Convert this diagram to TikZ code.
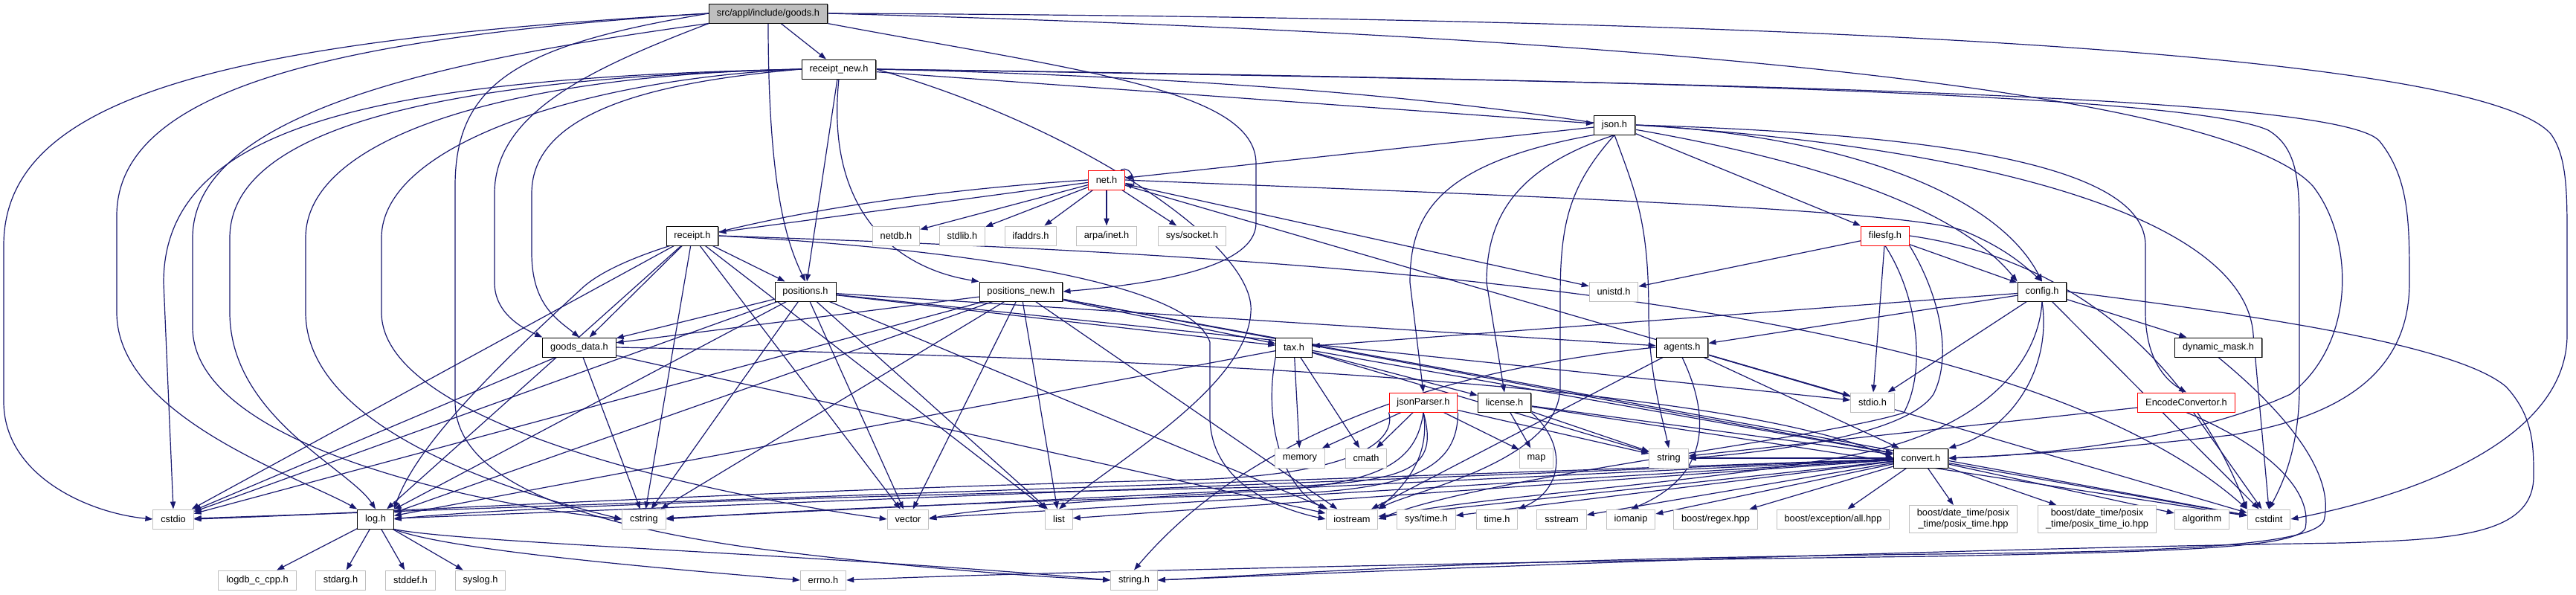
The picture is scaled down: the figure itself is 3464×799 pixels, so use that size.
\documentclass[tikz,border=0pt]{standalone}
\usepackage{fontspec}
\setmainfont{Liberation Sans}
\usetikzlibrary{arrows.meta,shadows}
\pgfdeclarelayer{bgl}
\pgfdeclarelayer{edgel}
\pgfsetlayers{bgl,edgel,main}
\definecolor{edgec}{HTML}{191970}
\definecolor{extg}{HTML}{BFBFBF}
\definecolor{rootg}{HTML}{BFBFBF}
\newcommand\nodefnt{\fontsize{6.4pt}{7.6pt}\selectfont}
\tikzset{
 nbase/.style={draw, fill=white, font=\nodefnt, minimum height=13pt, inner xsep=5.2pt, inner ysep=0pt, line width=0.5pt, text=black},
 shad/.style={drop shadow={shadow xshift=0.6pt, shadow yshift=-0.6pt, fill=black!55, opacity=1}},
 doc/.style={nbase, draw=black, shad},
 ext/.style={nbase, draw=extg},
 redbox/.style={nbase, draw=red},
 rootbox/.style={nbase, fill=rootg, draw=black, shad},
 lnk/.style={draw=edgec, line width=0.6pt, -{Triangle[length=5pt,width=3.6pt]}},
}
\begin{document}
\begin{tikzpicture}[x=0.5pt,y=-0.5pt]
\begin{pgfonlayer}{bgl}
\fill[white] (0,0) rectangle (3464,799);
\end{pgfonlayer}
\useasboundingbox (0,0) rectangle (3464,799);
% nodes
\node[rootbox] (G) at (1033,18) {src/appl/include/goods.h};
\node[doc] (R) at (1128,93) {receipt\_new.h};
\node[doc] (J) at (2171,168) {json.h};
\node[redbox] (N) at (1488,242) {net.h};
\node[doc] (RC) at (931,317) {receipt.h};
\node[ext] (NDB) at (1205,317) {netdb.h};
\node[ext] (SLB) at (1294,317) {stdlib.h};
\node[ext] (IFA) at (1386,317) {ifaddrs.h};
\node[ext] (ARP) at (1488,317) {arpa/inet.h};
\node[ext] (SOC) at (1603,317) {sys/socket.h};
\node[redbox] (FS) at (2535,317) {filesfg.h};
\node[doc] (P) at (1083,392) {positions.h};
\node[doc] (PN) at (1373,392) {positions\_new.h};
\node[ext] (UNI) at (2170,392) {unistd.h};
\node[doc] (CF) at (2746,392) {config.h};
\node[doc] (GD) at (779,467) {goods\_data.h};
\node[doc] (TX) at (1740,467) {tax.h};
\node[doc] (AG) at (2262,467) {agents.h};
\node[doc] (DM) at (2983,467) {dynamic\_mask.h};
\node[redbox] (JP) at (1914,541) {jsonParser.h};
\node[doc] (LI) at (2023,541) {license.h};
\node[ext] (SIO) at (2518,541) {stdio.h};
\node[redbox] (EC) at (2940,541) {EncodeConvertor.h};
\node[ext] (MEM) at (1748,616) {memory};
\node[ext] (CM) at (1837,616) {cmath};
\node[ext] (MAP) at (2066,616) {map};
\node[ext] (STR) at (2244,616) {string};
\node[doc] (CV) at (2583,616) {convert.h};
\node[ext] (CSTDIO) at (233,698) {cstdio};
\node[doc] (LOG) at (505,698) {log.h};
\node[ext] (CSTR) at (866,698) {cstring};
\node[ext] (VEC) at (1221,698) {vector};
\node[ext] (LST) at (1424,698) {list};
\node[ext] (IOS) at (1818,698) {iostream};
\node[ext] (STIME) at (1918,698) {sys/time.h};
\node[ext] (TIME) at (2013,698) {time.h};
\node[ext] (SST) at (2100,698) {sstream};
\node[ext] (IOM) at (2193,698) {iomanip};
\node[ext] (BRX) at (2307,698) {boost/regex.hpp};
\node[ext] (BEX) at (2465,698) {boost/exception/all.hpp};
\node[ext, align=center, inner ysep=2.4pt] (BPT) at (2640,698) {boost/date\_time/posix\\\_time/posix\_time.hpp};
\node[ext, align=center, inner ysep=2.4pt] (BPTIO) at (2820,698) {boost/date\_time/posix\\\_time/posix\_time\_io.hpp};
\node[ext] (ALG) at (2961,698) {algorithm};
\node[ext] (CINT) at (3051,698) {cstdint};
\node[ext] (LDB) at (346,780) {logdb\_c\_cpp.h};
\node[ext] (SARG) at (458,780) {stdarg.h};
\node[ext] (SDEF) at (552,780) {stddef.h};
\node[ext] (SLOG) at (646,780) {syslog.h};
\node[ext] (ERR) at (1107,780) {errno.h};
\node[ext] (STRH) at (1525,780) {string.h};
\begin{pgfonlayer}{edgel}
% goods.h
\draw[lnk] (G) -- (R);
\draw[lnk] (1033,31) .. controls (1033,260) and (1060,330) .. (P.north);
\draw[lnk] (G.south east) .. controls (1450,95) and (1689,120) .. (1689,220) -- (1689,300) .. controls (1689,360) and (1550,382) .. (PN.east);
\draw[lnk] (G.west) .. controls (700,60) and (612,110) .. (612,250) -- (612,540) .. controls (612,640) and (760,700) .. (1000,735) .. controls (1200,762) and (1400,776) .. (STRH.west);
\draw[lnk] (G.south west) .. controls (800,90) and (665,150) .. (665,260) -- (665,380) .. controls (665,420) and (700,440) .. (GD.north west);
\draw[lnk] (G.west) .. controls (300,55) and (5,130) .. (5,330) -- (5,540) .. controls (5,640) and (120,690) .. (CSTDIO.west);
\draw[lnk] (G.west) .. controls (450,50) and (157,120) .. (157,290) -- (157,420) .. controls (157,560) and (400,640) .. (LOG.north west);
\draw[lnk] (G.south west) .. controls (600,80) and (259,150) .. (259,320) -- (259,440) .. controls (259,600) and (650,680) .. (CSTR.west);
\draw[lnk] (G.east) .. controls (2300,50) and (3000,130) .. (3110,250) .. controls (3165,320) and (3170,460) .. (3080,530) .. controls (2950,590) and (2750,612) .. (CV.east);
\draw[lnk] (G.east) .. controls (2700,25) and (3350,90) .. (3430,180) .. controls (3452,210) and (3452,260) .. (3452,320) -- (3452,450) .. controls (3452,590) and (3250,665) .. (CINT.east);
% receipt_new.h
\draw[lnk] (R) -- (J);
\draw[lnk] (R) -- (P);
\draw[lnk] (R.south) .. controls (1110,280) and (1200,360) .. (PN.north west);
\draw[lnk] (R.west) .. controls (880,110) and (715,150) .. (715,260) -- (715,340) .. controls (715,410) and (750,430) .. (GD.north);
\draw[lnk] (R.west) .. controls (500,105) and (220,170) .. (220,380) -- (CSTDIO.north);
\draw[lnk] (R.west) .. controls (600,105) and (309,170) .. (309,320) -- (309,420) .. controls (309,560) and (470,630) .. (LOG.north);
\draw[lnk] (R.west) .. controls (700,100) and (411,180) .. (411,320) -- (411,420) .. controls (411,580) and (700,665) .. (CSTR.west);
\draw[lnk] (R.west) .. controls (800,105) and (513,190) .. (513,320) -- (513,420) .. controls (513,580) and (1000,672) .. (VEC.west);
\draw[lnk] (R.east) .. controls (1450,170) and (1690,330) .. (1682,420) .. controls (1676,520) and (1500,620) .. (LST.north);
\draw[lnk] (R.east) .. controls (1900,110) and (2550,180) .. (CF.north west);
\draw[lnk] (R.east) .. controls (2300,108) and (2950,130) .. (3050,175) .. controls (3092,200) and (3092,250) .. (3092,320) -- (3092,520) .. controls (3092,600) and (3070,650) .. (CINT.north);
\draw[lnk] (R.east) .. controls (2400,112) and (3150,130) .. (3200,190) .. controls (3240,240) and (3240,300) .. (3240,380) .. controls (3240,500) and (3150,560) .. (3000,585) .. controls (2800,608) and (2700,612) .. (CV.east);
% json.h
\draw[lnk] (J) -- (N);
\draw[lnk] (J) -- (FS);
\draw[lnk] (J.east) .. controls (2450,180) and (2680,250) .. (CF.north);
\draw[lnk] (J.south west) .. controls (1930,220) and (1896,290) .. (1896,380) -- (JP.north);
\draw[lnk] (J.south) .. controls (2040,225) and (1999,290) .. (1999,380) -- (LI.north);
\draw[lnk] (J.south) .. controls (2110,250) and (2098,300) .. (2098,400) -- (2098,520) .. controls (2098,620) and (1900,660) .. (IOS.north east);
\draw[lnk] (J.south) .. controls (2200,260) and (2217,300) .. (2217,420) .. controls (2217,500) and (2235,560) .. (STR.north);
\draw[lnk] (J.east) .. controls (2600,180) and (2885,220) .. (2885,330) -- (2885,420) .. controls (2885,480) and (2910,510) .. (EC.north);
\draw[lnk] (J.east) .. controls (2700,200) and (3020,300) .. (3030,450) -- (CINT.north);
% net.h
\draw[lnk] (N) -- (NDB);
\draw[lnk] (N) -- (SLB);
\draw[lnk] (N) -- (IFA);
\draw[lnk] (N) -- (ARP);
\draw[lnk] (N) -- (SOC);
\draw[lnk] ([xshift=-3pt]N.north east) .. controls +(16,-8) and +(16,8) .. ([yshift=-2pt]N.east);
\draw[lnk] (N) -- (RC);
\draw[lnk] (N.west) .. controls (1150,262) and (850,320) .. (780,390) .. controls (660,500) and (560,600) .. (LOG.north east);
\draw[lnk] (N) -- (UNI);
\draw[lnk] (N.east) .. controls (2000,262) and (2550,280) .. (2640,310) .. controls (2700,335) and (2725,360) .. (CF.north);
\draw[lnk] (N) -- (SIO);
% receipt.h
\draw[lnk] (RC) -- (P);
\draw[lnk] (RC) -- (GD);
\draw[lnk] (RC) -- (LOG);
\draw[lnk] (RC) -- (CSTDIO);
\draw[lnk] (RC) -- (CSTR);
\draw[lnk] (RC) -- (VEC);
\draw[lnk] (RC) -- (LST);
\draw[lnk] (RC.east) .. controls (1300,335) and (1600,380) .. (1627,460) -- (1627,560) .. controls (1627,640) and (1700,680) .. (IOS.west);
\draw[lnk] (RC.east) .. controls (1800,345) and (2700,400) .. (CINT.north west);
% positions.h
\draw[lnk] (P) -- (GD);
\draw[lnk] (P) -- (TX);
\draw[lnk] (P) -- (AG);
\draw[lnk] (P) -- (SIO);
\draw[lnk] (P) -- (LOG);
\draw[lnk] (P) -- (CSTDIO);
\draw[lnk] (P) -- (CSTR);
\draw[lnk] (P) -- (VEC);
\draw[lnk] (P) -- (LST);
\draw[lnk] (P) -- (IOS);
% positions_new.h
\draw[lnk] (PN) -- (GD);
\draw[lnk] (PN) -- (TX);
\draw[lnk] (PN) -- (LOG);
\draw[lnk] (PN) -- (CSTDIO);
\draw[lnk] (PN) -- (CSTR);
\draw[lnk] (PN) -- (VEC);
\draw[lnk] (PN) -- (LST);
\draw[lnk] (PN) -- (IOS);
\draw[lnk] (PN) -- (CV);
\draw[lnk] (PN) -- (CINT);
% filesfg.h
\draw[lnk] (FS) -- (CF);
\draw[lnk] (FS) -- (UNI);
\draw[lnk] (FS) -- (SIO);
\draw[lnk] (FS.south) .. controls (2580,400) and (2590,500) .. (2560,555) .. controls (2450,590) and (2000,640) .. (IOS.east);
\draw[lnk] (FS.south east) .. controls (2610,400) and (2625,480) .. (2600,530) .. controls (2560,590) and (2350,610) .. (STR.east);
\draw[lnk] (FS.east) .. controls (2800,350) and (2950,500) .. (CINT.north west);
% config.h
\draw[lnk] (CF) -- (TX);
\draw[lnk] (CF) -- (AG);
\draw[lnk] (CF) -- (DM);
\draw[lnk] (CF) -- (SIO);
\draw[lnk] (CF.south) .. controls (2760,500) and (2700,580) .. (CV.north east);
\draw[lnk] (CF.east) .. controls (3000,420) and (3300,460) .. (3370,520) .. controls (3407,560) and (3407,600) .. (3407,640) .. controls (3407,720) and (3300,725) .. (3150,730) .. controls (2500,740) and (1800,770) .. (STRH.east);
\draw[lnk] (CF) -- (CINT);
\draw[lnk] (CF.south) .. controls (2740,500) and (2650,580) .. (2500,610) .. controls (2300,650) and (1950,670) .. (IOS.east);
% goods_data.h
\draw[lnk] (GD) -- (CSTDIO);
\draw[lnk] (GD) -- (CSTR);
\draw[lnk] (GD) -- (IOS);
\draw[lnk] (GD.east) .. controls (1500,480) and (2300,510) .. (CV.west);
% tax.h
\draw[lnk] (TX) -- (LI);
\draw[lnk] (TX) -- (MEM);
\draw[lnk] (TX) -- (CM);
\draw[lnk] (TX.south west) .. controls (1700,560) and (1720,650) .. (IOS.north west);
\draw[lnk] (TX) -- (LOG);
\draw[lnk] (TX) -- (STR);
\draw[lnk] (TX) -- (CV);
% agents.h
\draw[lnk] (AG) -- (SIO);
\draw[lnk] (AG.west) .. controls (2000,490) and (1700,560) .. (STRH.north);
\draw[lnk] (AG) -- (CV);
\draw[lnk] (AG.south) .. controls (2300,560) and (2300,640) .. (IOM.north);
\draw[lnk] (AG) -- (CINT);
\draw[lnk] (AG) -- (IOS);
% dynamic_mask.h
\draw[lnk] (DM.south) .. controls (3080,560) and (3140,640) .. (3125,700) .. controls (3110,735) and (2900,742) .. (2600,745) .. controls (2000,752) and (1800,768) .. (STRH.east);
% jsonParser.h
\draw[lnk] (JP) -- (MEM);
\draw[lnk] (JP) -- (CM);
\draw[lnk] (JP) -- (MAP);
\draw[lnk] (JP) -- (STR);
\draw[lnk] (JP.south) .. controls (1925,620) and (1880,660) .. (IOS.north east);
\draw[lnk] (JP.south) .. controls (1905,620) and (1860,650) .. (1700,660) .. controls (1500,670) and (1300,685) .. (VEC.east);
\draw[lnk] (JP.south) .. controls (1935,630) and (1900,650) .. (1700,655) .. controls (1200,665) and (700,680) .. (LOG.east);
\draw[lnk] (JP.south east) .. controls (1960,630) and (1900,660) .. (1700,665) .. controls (1300,675) and (1000,690) .. (CSTR.east);
\draw[lnk] (JP.south west) .. controls (1880,600) and (1800,640) .. (1600,645) .. controls (1000,660) and (500,690) .. (CSTDIO.east);
% license.h
\draw[lnk] (LI) -- (MAP);
\draw[lnk] (LI) -- (STR);
\draw[lnk] (LI.south east) .. controls (2110,600) and (2100,660) .. (TIME.north east);
\draw[lnk] (LI) -- (CINT);
\draw[lnk] (LI) -- (CV);
% EncodeConvertor.h
\draw[lnk] (EC) -- (STR);
\draw[lnk] (EC.south) .. controls (3050,600) and (3110,660) .. (3100,710) .. controls (3090,738) and (2900,742) .. (2600,748) .. controls (2000,755) and (1300,772) .. (ERR.east);
\draw[lnk] (EC) -- (CINT);
% convert.h
\draw[lnk] (CV) -- (BRX);
\draw[lnk] (CV) -- (BEX);
\draw[lnk] (CV) -- (BPT);
\draw[lnk] (CV) -- (BPTIO);
\draw[lnk] (CV) -- (ALG);
\draw[lnk] (CV) -- (CINT);
\draw[lnk] (CV) -- (IOM);
\draw[lnk] (CV) -- (SST);
\draw[lnk] (CV) -- (STIME);
\draw[lnk] (CV) -- (IOS);
\draw[lnk] (CV) -- (LST);
\draw[lnk] (CV) -- (VEC);
\draw[lnk] (CV) -- (CSTR);
\draw[lnk] (CV) -- (LOG);
\draw[lnk] (CV) -- (CSTDIO);
\draw[lnk] (CV) -- (STR);
% log.h
\draw[lnk] (LOG) -- (LDB);
\draw[lnk] (LOG) -- (SARG);
\draw[lnk] (LOG) -- (SDEF);
\draw[lnk] (LOG) -- (SLOG);
\draw[lnk] (LOG.south east) .. controls (600,740) and (900,765) .. (ERR.west);
\draw[lnk] (LOG.south east) .. controls (620,730) and (1100,745) .. (STRH.west);
\end{pgfonlayer}
\end{tikzpicture}
\end{document}
